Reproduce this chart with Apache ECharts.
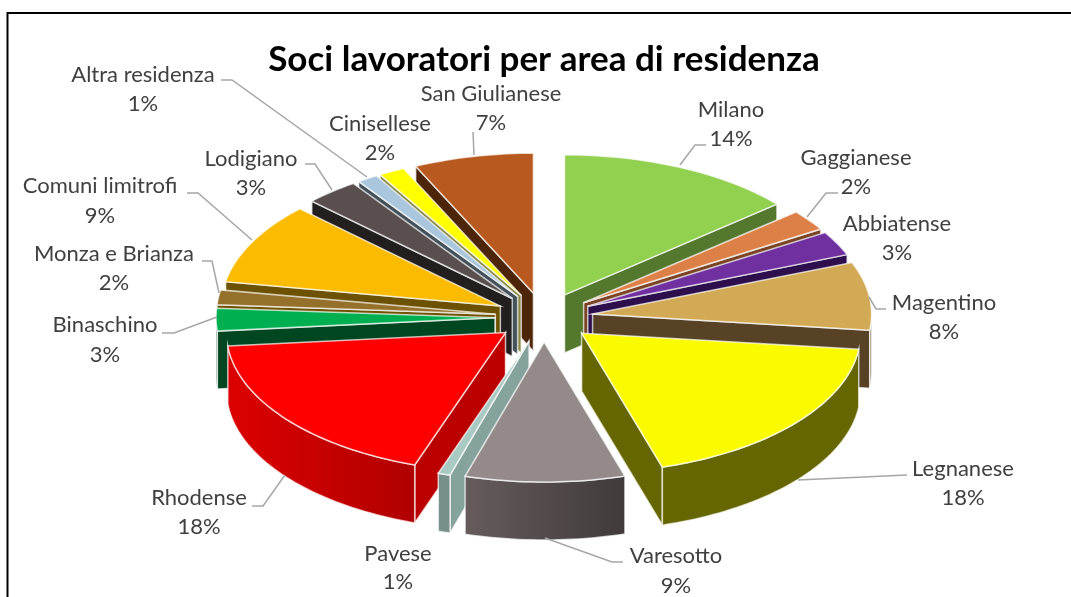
<!DOCTYPE html>
<html>
<head>
<meta charset="utf-8">
<title>Soci lavoratori per area di residenza</title>
<script src="https://cdn.jsdelivr.net/npm/echarts@6/dist/echarts.min.js"></script>
<style>
    html, body { margin: 0; padding: 0; background: #fff; }
    #chart { width: 1071px; height: 597px; }
</style>
</head>
<body>
<div id="chart"></div>
<script>
// clockwise from 12 o'clock
const areas = ['Milano', 'Gaggianese', 'Abbiatense', 'Magentino', 'Legnanese', 'Varesotto', 'Pavese', 'Rhodense',
    'Binaschino', 'Monza e Brianza', 'Comuni limitrofi', 'Lodigiano', 'Altra residenza', 'Cinisellese', 'San Giulianese'];
const shares = [13.7, 2.4, 2.8, 7.8, 18.4, 9.2, 0.7, 18.1, 2.6, 1.7, 9.4, 3.1, 1.2, 1.5, 6.9];

const topColors = ['#92d050', '#dd8047', '#7030a0', '#d2aa55', '#fbfb00', '#948a8a', '#a9c9c3', '#ff0000',
    '#00b050', '#94702a', '#fbbb00', '#594f4f', '#a9c6dc', '#ffff00', '#b85a1f'];
const wallColors = ['#54782e', '#7a4525', '#2e0f4d', '#574225', '#666600', '#4d4545', '#86a29c', '#bb0000',
    '#004621', '#6e5200', '#6b5100', '#231f1f', '#44505a', '#8a8a4a', '#4d2509'];
const rimLeft = ['#54782e', '#7a4525', '#2e0f4d', '#7a6a4a', '#666600', '#665c5c', '#78908c', '#dc0000',
    '#004621', '#6e5200', '#6b5100', '#231f1f', '#44505a', '#8a8a4a', '#4d2509'];
const rimRight = ['#54782e', '#7a4525', '#2e0f4d', '#7a6a4a', '#666600', '#403a3a', '#78908c', '#b00000',
    '#004621', '#6e5200', '#6b5100', '#231f1f', '#44505a', '#8a8a4a', '#4d2509'];

// pie geometry on screen
const CX = 544, CY = 317.3, RX = 279, RY = 140, DEPTH = 58, EXPLODE_X = 49, EXPLODE_Y = 24.7;

// label centres [x, first line y, second line y]
const labelPos = [[731, 110, 139], [856, 158, 187], [897, 224, 253], [944, 303, 332], [963, 469, 498],
    [676, 556, 586], [398, 554, 582], [199, 498, 527], [105, 325, 355], [114, 254, 283], [100, 186, 216],
    [251, 159, 188], [143, 75, 104], [380, 124, 153], [491, 94, 123]];

// leader lines, null when the label has none
const leaders = [
    [[706, 145], [695, 145], [680, 165]],
    [[838, 193], [826, 193], [807, 217]],
    null,
    [[886, 309], [876, 309], [869, 297]],
    [[907, 475], [798, 480]],
    [[623, 562], [612, 562], [545, 538]],
    null,
    [[252, 506], [263, 506], [285, 475]],
    [[162, 333], [174, 333], [217, 317]],
    [[202, 261], [212, 261], [219, 293]],
    [[187, 193], [198, 193], [252, 240]],
    [[305, 164], [315, 164], [332, 190]],
    [[221, 80], [232, 80], [367, 177]],
    null,
    [[473, 132], [474, 155]]
];

const total = shares.reduce((a, b) => a + b, 0);
const startAngles = [];
let run = 0;
shares.forEach((v) => {
    startAngles.push(run / total * Math.PI * 2);
    run += v;
});

// back slices get painted first
const midAngle = (i) => startAngles[i] + shares[i] / total * Math.PI;
const paintOrder = areas.map((_, i) => i).sort((a, b) => Math.cos(midAngle(b)) - Math.cos(midAngle(a)));

const renderSlice = (params, api) => {
    const i = api.value(0);
    const a0 = startAngles[i];
    const a1 = a0 + api.value(1) / total * Math.PI * 2;
    const mid = (a0 + a1) / 2;
    const ax = CX + EXPLODE_X * Math.sin(mid);
    const ay = CY - EXPLODE_Y * Math.cos(mid);
    const rim = (a) => [ax + RX * Math.sin(a), ay - RY * Math.cos(a)];
    const down = (p) => [p[0], p[1] + DEPTH];
    const arc = (from, to) => {
        const pts = [];
        const n = Math.max(2, Math.ceil((to - from) * 40));
        for (let k = 0; k <= n; k++) pts.push(rim(from + (to - from) * k / n));
        return pts;
    };
    const edge = { stroke: 'rgba(255,255,255,0.7)', lineWidth: 1.5 };
    const children = [];
    const z = paintOrder.indexOf(i) + 1;
    const poly = (points, fill) => children.push({
        type: 'polygon', z2: z, shape: { points: points },
        style: Object.assign({ fill: fill }, edge)
    });

    // radial walls, only the ones turned towards the viewer
    const apex = [ax, ay];
    if (Math.cos(a0 - Math.PI / 2) < 0) {
        const p = rim(a0);
        poly([apex, p, down(p), down(apex)], wallColors[i]);
    }
    if (Math.cos(a1 + Math.PI / 2) < 0) {
        const p = rim(a1);
        poly([apex, p, down(p), down(apex)], wallColors[i]);
    }
    // outer wall on the front half
    const f0 = Math.max(a0, Math.PI / 2);
    const f1 = Math.min(a1, Math.PI * 1.5);
    if (f1 > f0) {
        const top = arc(f0, f1);
        const outer = top.concat(top.map(down).reverse());
        const fill = new echarts.graphic.LinearGradient(0, 0, 1, 0, [
            { offset: 0, color: rimLeft[i] },
            { offset: 1, color: rimRight[i] }
        ]);
        poly(outer, fill);
    }
    // top face
    poly([apex].concat(arc(a0, a1)), topColors[i]);

    // label and leader
    const pos = labelPos[i];
    const pct = Math.round(api.value(1) / total * 100) + '%';
    const text = (s, y) => children.push({
        type: 'text', z2: 100,
        style: {
            text: s, x: pos[0], y: y, fill: '#404040',
            font: '22px Lato', align: 'center', verticalAlign: 'middle'
        }
    });
    text(areas[i], pos[1]);
    text(pct, pos[2]);
    if (leaders[i]) {
        children.push({
            type: 'polyline', z2: 90, shape: { points: leaders[i] },
            style: { fill: null, stroke: '#a6a6a6', lineWidth: 1.5 }
        });
    }
    return { type: 'group', children: children };
};

const chart = echarts.init(document.getElementById('chart'), null, { renderer: 'canvas' });
chart.setOption({
    animation: false,
    backgroundColor: '#ffffff',
    title: {
        text: 'Soci lavoratori per area di residenza',
        left: 539,
        top: 37,
        textAlign: 'center',
        textStyle: { fontFamily: 'Lato', fontWeight: 'bold', fontSize: 35, color: '#000000' }
    },
    graphic: [
        { type: 'polyline', shape: { points: [[7.5, 597], [7.5, 13], [1071, 13]] }, style: { fill: null, stroke: '#000', lineWidth: 2 } }
    ],
    series: [{
        type: 'custom',
        coordinateSystem: 'none',
        renderItem: renderSlice,
        silent: true,
        data: shares.map((v, i) => [i, v])
    }]
});
window.addEventListener('resize', () => chart.resize());
</script>
</body>
</html>
